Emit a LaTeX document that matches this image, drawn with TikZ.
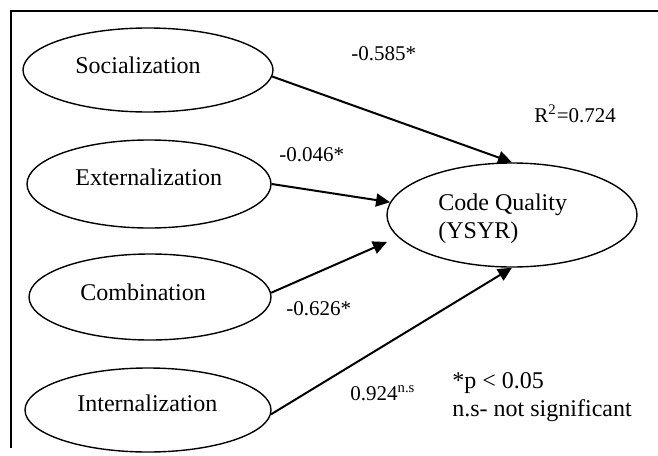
\documentclass[tikz,border=0pt]{standalone}
\usepackage{fontspec}
\setmainfont{Liberation Serif}
\usetikzlibrary{shapes.geometric,arrows.meta}
\begin{document}
\begin{tikzpicture}[x=0.5pt,y=-0.5pt,
  construct/.style={ellipse,draw,line width=0.7pt,inner sep=0pt},
  lbl/.style={anchor=base west,inner sep=0pt,font=\fontsize{12}{14}\selectfont},
  coef/.style={anchor=base west,inner sep=0pt,font=\fontsize{10.5}{12}\selectfont},
  path/.style={line width=1pt,-{Triangle[length=7pt,width=6.5pt]}}]
\useasboundingbox (0,0) rectangle (658,455);
% frame
\draw[line width=0.9pt] (658,11) -- (11,11) -- (11,448);
% ellipses
\node[construct,minimum width=125pt,minimum height=42pt] (soc) at (148,70) {};
\node[construct,minimum width=122pt,minimum height=44pt] (ext) at (149,184) {};
\node[construct,minimum width=121pt,minimum height=43pt] (comb) at (150,297) {};
\node[construct,minimum width=123pt,minimum height=42pt] (int) at (148,410) {};
\node[construct,minimum width=125pt,minimum height=52pt] (cq) at (512,215) {};
% texts
\node[lbl] (tsoc) at (75,73) {Socialization};
\node[lbl] (text) at (75,185) {Externalization};
\node[lbl] (tcomb) at (80,300) {Combination};
\node[lbl] (tint) at (77,411) {Internalization};
\node[lbl] (tcq1) at (438,210) {Code Quality};
\node[lbl] (tcq2) at (438,238) {(YSYR)};
% arrows
\draw[path] (soc.-3) -- (cq.north);
\draw[path] (ext.east) -- (cq.174);
\draw[path,shorten >=6pt] (comb.2) -- (cq.191);
\draw[path] (int.-2.5) -- (cq.south);
% coefficients
\node[coef] (c1) at (351,60) {-0.585*};
\node[coef] (c2) at (279,161) {-0.046*};
\node[coef] (c3) at (286,315) {-0.626*};
\node[coef] (c4) at (350,400) {0.924\textsuperscript{n.s}};
\node[coef] (r2) at (534,122) {R\textsuperscript{2}=0.724};
% note
\node[lbl] (n1) at (452,388) {*p < 0.05};
\node[lbl] (n2) at (452,416) {n.s- not significant};
\end{tikzpicture}
\end{document}
